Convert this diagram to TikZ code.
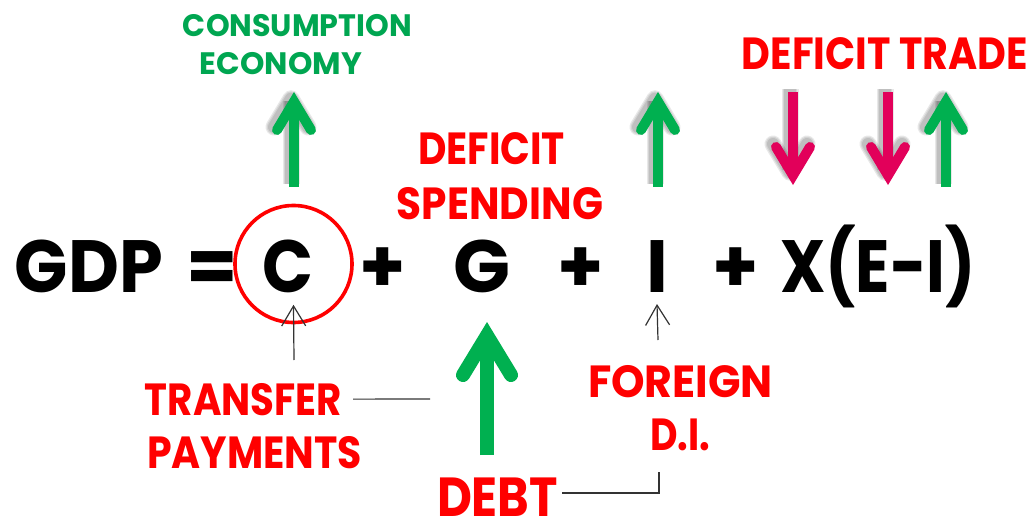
\documentclass[tikz,border=0pt]{standalone}
\usepackage{fontspec}
\usepackage{graphicx}
\setmainfont{Poppins}
\usetikzlibrary{arrows.meta}
\definecolor{ggreen}{RGB}{0,176,80}
\definecolor{cgreen}{RGB}{0,166,81}
\definecolor{gpink}{RGB}{226,0,90}
\definecolor{tred}{RGB}{255,0,0}
\newcommand\wfit[2]{\resizebox{#1}{\height}{#2}}
\tikzset{
  pics/fatarrow/.style n args={5}{code={
    % #1 length, #2 line width, #3 miter vertex offset, #4 barb dx, #5 barb dy
    \draw[line width=#2, line cap=butt] (0,#1) -- (0,#3+2);
    \draw[line width=#2, line cap=round, line join=miter] (-#4,#5) -- (0,#3) -- (#4,#5);
  }},
  pics/fatshadow/.style n args={5}{code={
    \foreach \ww in {7,4.5,2}{
      \draw[line width=#2+\ww, line cap=butt, black, opacity=0.09] (0,#1) -- (0,#3+2);
      \draw[line width=#2+\ww, line cap=round, line join=round, black, opacity=0.09] (-#4,#5) -- (0,#3) -- (#4,#5);
    }
  }},
}
\begin{document}
\begin{tikzpicture}[x=1pt,y=-1pt,
  eq/.style={font=\fontsize{74}{74}\selectfont\bfseries, text=black, anchor=base, inner sep=0pt},
  lab/.style={font=\fontsize{45}{45}\selectfont\bfseries, text=tred, anchor=base, inner sep=0pt},
  glab/.style={font=\fontsize{31}{31}\selectfont\bfseries, text=cgreen, anchor=base, inner sep=0pt},
  biglab/.style={font=\fontsize{55}{55}\selectfont\bfseries, text=tred, anchor=base, inner sep=0pt},
  thinarr/.style={draw=black!80, line width=1.2pt, -{Straight Barb[length=20pt,width=24pt]}},
  thinln/.style={draw=black!80, line width=1.2pt},
]
\fill[white] (0,0) rectangle (1034,524);
\useasboundingbox (0,0) rectangle (1034,524);

% equation
\node[eq] (gdp) at (89,292) {\wfit{148pt}{GDP}};
\node[eq] (eqs) at (212.5,292) {=};
\node[eq] (C) at (287.5,292) {\wfit{51pt}{C}};
\node[eq] (p1) at (382.5,292) {+};
\node[eq] (G) at (481.5,292) {\wfit{57pt}{G}};
\node[eq] (p2) at (580.5,292) {+};
\node[eq] (I) at (657,292) {I};
\node[eq] (p3) at (735.5,292) {+};
\node[eq] (X) at (878,292) {\wfit{196pt}{X(E-I)}};
\node[draw=tred, line width=3.6pt, circle, minimum size=117pt, inner sep=0pt] (circ) at (293.5,264) {};

% labels
\node[glab] (cons1) at (297.5,37) {\wfit{229pt}{CONSUMPTION}};
\node[glab] (cons2) at (281,75) {\wfit{162pt}{ECONOMY}};
\node[lab] (def1) at (491.5,165) {\wfit{147pt}{DEFICIT}};
\node[lab] (def2) at (500,219) {\wfit{206pt}{SPENDING}};
\node[lab] (trade) at (885,70) {\wfit{286pt}{DEFICIT TRADE}};
\node[lab] (tr1) at (243.5,415) {\wfit{197pt}{TRANSFER}};
\node[lab] (tr2) at (254.5,468) {\wfit{215pt}{PAYMENTS}};
\node[lab] (for1) at (680.5,397) {\wfit{185pt}{FOREIGN}};
\node[lab] (for2) at (680,450) {\wfit{60pt}{D.I.}};
\node[biglab] (debt) at (497.5,516) {\wfit{121pt}{DEBT}};

% fat arrows with shadows
\pic at (291,89) {fatshadow={95}{10}{9.7}{17}{38}};
\pic[color=ggreen] at (294,92) {fatarrow={95}{10}{9.7}{17}{38}};
\pic at (655,89) {fatshadow={95}{10}{9.7}{17}{38}};
\pic[color=ggreen] at (658,92) {fatarrow={95}{10}{9.7}{17}{38}};
\pic at (943,89) {fatshadow={95}{10}{9.7}{17}{38}};
\pic[color=ggreen] at (946,92) {fatarrow={95}{10}{9.7}{17}{38}};
\pic[rotate=180] at (790,182) {fatshadow={93}{10}{9.7}{17}{38}};
\pic[color=gpink, rotate=180] at (793,185) {fatarrow={93}{10}{9.7}{17}{38}};
\pic[rotate=180] at (885,182) {fatshadow={93}{10}{9.7}{17}{38}};
\pic[color=gpink, rotate=180] at (888,185) {fatarrow={93}{10}{9.7}{17}{38}};
\pic[color=ggreen] at (487,322) {fatarrow={133}{14}{13.5}{24}{53}};

% thin connectors
\coordinate (cfoot) at (294,360);
\coordinate (ifoot) at (658,340);
\coordinate (tline) at (430,399);
\coordinate (dcor) at (659,493);
\coordinate (dtop) at (659,472);
\draw[thinarr] (cfoot) -- ([yshift=19.5pt]circ.south);
\draw[thinarr] (ifoot) -- ([yshift=-12pt]I.base);
\draw[thinln] ([xshift=11pt]tr1.east) -- (tline);
\draw[thinln] ([xshift=4pt]debt.east |- dcor) -- (dcor) -- (dtop);
\end{tikzpicture}
\end{document}
